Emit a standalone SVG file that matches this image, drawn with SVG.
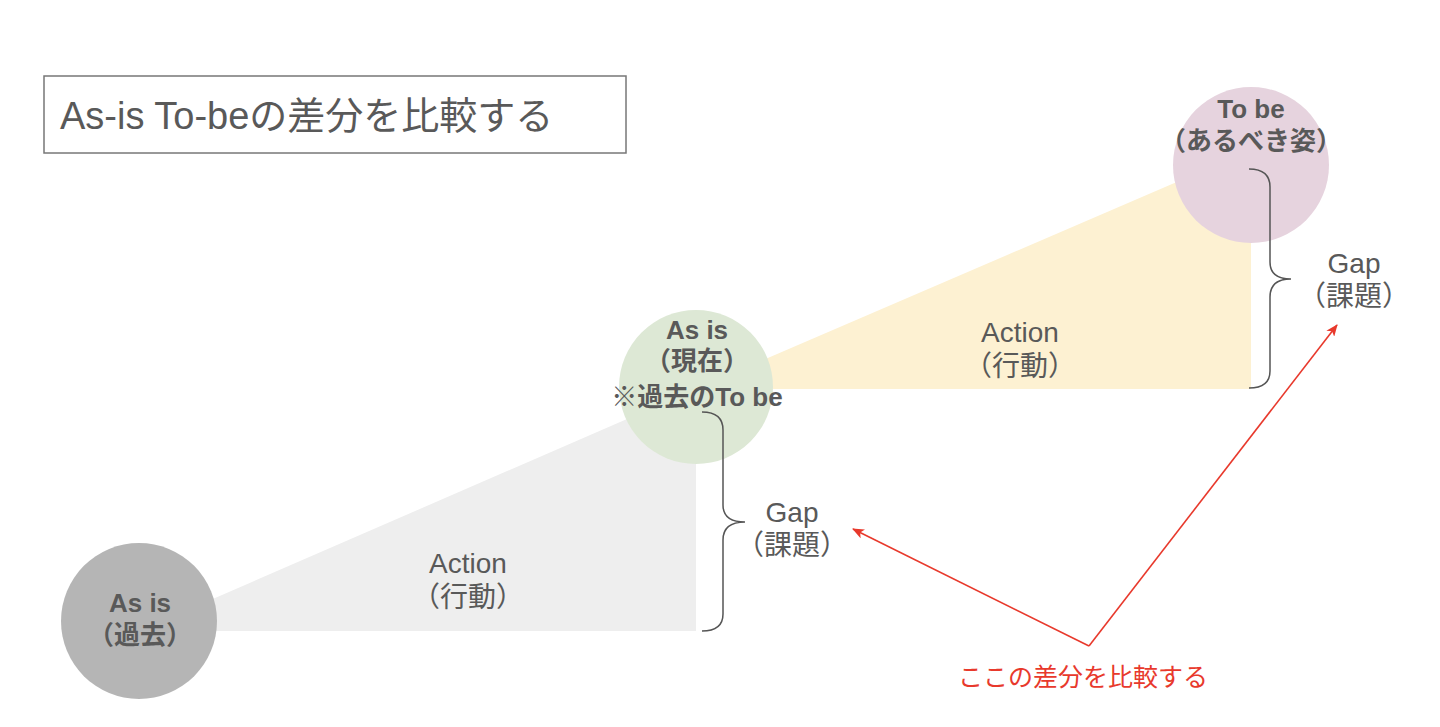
<svg xmlns="http://www.w3.org/2000/svg" width="1440" height="727" viewBox="0 0 1440 727">
<defs>
<style>
.t{font-family:"Liberation Sans","Noto Sans CJK JP",sans-serif;fill:#595959;text-anchor:middle}
.b{font-weight:bold;font-size:26px}
.r{font-size:28px}
.brace{fill:none;stroke:#555;stroke-width:1.5}
.red{fill:none;stroke:#e8392c;stroke-width:1.6}
</style>
<marker id="ah" viewBox="0 0 12 10" refX="11" refY="5" markerWidth="12" markerHeight="10" markerUnits="userSpaceOnUse" orient="auto">
<path d="M0,0 L12,5 L0,10 L3,5 z" fill="#e8392c"/>
</marker>
</defs>
<rect width="1440" height="727" fill="#fff"/>
<g id="title">
<rect x="44" y="76" width="582" height="77" fill="none" stroke="#777" stroke-width="1.5"/>
<text x="60" y="129" class="t" style="text-anchor:start;font-size:38px">As-is To-beの差分を比較する</text>
</g>
<g id="action-past">
<polygon points="139,631 696,389 696,631" fill="#eeeeee"/>
<text x="468" y="573" class="t r">Action</text>
<text x="468" y="607" class="t r">（行動）</text>
</g>
<g id="action-now">
<polygon points="696,389 1251,150 1251,389" fill="#fdf1d2"/>
<text x="1020" y="342" class="t r">Action</text>
<text x="1020" y="376" class="t r">（行動）</text>
</g>
<g id="asis-past">
<circle cx="139" cy="621" r="78" fill="#b5b5b5"/>
<text x="140" y="612" class="t b">As is</text>
<text x="140" y="644" class="t b">（過去）</text>
</g>
<g id="asis-now">
<circle cx="696" cy="387" r="77" fill="#dde8d5"/>
<text x="697" y="339" class="t b">As is</text>
<text x="697" y="370" class="t b">（現在）</text>
<text x="697" y="406" class="t b">※過去のTo be</text>
</g>
<g id="tobe">
<circle cx="1251" cy="165" r="78" fill="#e6d3de"/>
<text x="1251" y="118" class="t b">To be</text>
<text x="1251" y="150" class="t b">（あるべき姿）</text>
</g>
<g id="gap1">
<path class="brace" d="M702,412 Q723,412 723,430 L723,505 Q723,522 745,522 Q723,522 723,540 L723,614 Q723,631 702,631"/>
<text x="792" y="522" class="t r">Gap</text>
<text x="792" y="555" class="t r">（課題）</text>
</g>
<g id="gap2">
<path class="brace" d="M1249,169 Q1270,169 1270,187 L1270,262 Q1270,279 1291,279 Q1270,279 1270,297 L1270,371 Q1270,388 1249,388"/>
<text x="1354" y="273" class="t r">Gap</text>
<text x="1354" y="306" class="t r">（課題）</text>
</g>
<g id="connectors">
<line class="red" x1="1089" y1="646" x2="853" y2="529" marker-end="url(#ah)"/>
<line class="red" x1="1089" y1="646" x2="1337" y2="325" marker-end="url(#ah)"/>
</g>
<g id="note">
<text x="1083" y="686" class="t" style="fill:#e8392c;font-size:25px">ここの差分を比較する</text>
</g>
</svg>
